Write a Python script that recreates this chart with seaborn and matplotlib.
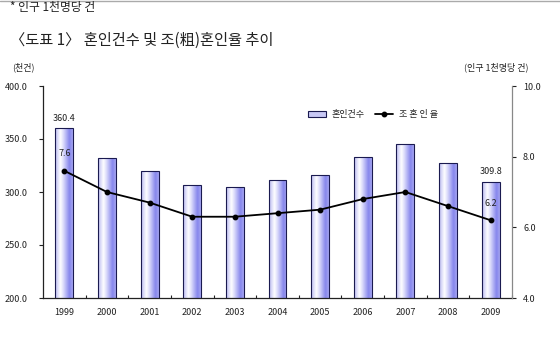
import numpy as np
import pandas as pd
import matplotlib
matplotlib.use("Agg")
import matplotlib.pyplot as plt
from matplotlib.patches import Patch
from matplotlib.lines import Line2D
from matplotlib.colors import LinearSegmentedColormap
import seaborn as sns

# Marriage counts (thousands) and crude marriage rate (per 1,000 population)
years = ["1999", "2000", "2001", "2002", "2003", "2004", "2005", "2006", "2007", "2008", "2009"]
marriages = [360.4, 332.1, 320.1, 306.6, 304.9, 310.9, 316.4, 332.8, 345.6, 327.7, 309.8]
crude_rate = [7.6, 7.0, 6.7, 6.3, 6.3, 6.4, 6.5, 6.8, 7.0, 6.6, 6.2]
left_ticks = [200, 250, 300, 350, 400]
right_ticks = [4, 6, 8, 10]

sns.set_theme(style="white")
plt.rcParams["font.family"] = ["Noto Sans CJK KR", "DejaVu Sans"]

df = pd.DataFrame({"year": years, "marriages": marriages, "rate": crude_rate})

fig = plt.figure(figsize=(5.6, 3.43), dpi=100)
ax = fig.add_axes([43 / 560, 45 / 343, 469 / 560, 212 / 343])

sns.barplot(data=df, x="year", y="marriages", ax=ax, width=0.42,
            color="#c8c8f5", edgecolor="#1a1a50", linewidth=0.8, zorder=2)

ax.set_ylim(200, 400)
ax.set_xlim(-0.5, len(years) - 0.5)
ymin = ax.get_ylim()[0]

# horizontal gradient fill for each bar
grad = LinearSegmentedColormap.from_list(
    "bar", [(0.0, "#b8b8f2"), (0.3, "#ffffff"), (0.5, "#d4d4fa"),
            (0.82, "#8484ec"), (1.0, "#a8a8f2")])
g = np.linspace(0, 1, 64).reshape(1, -1)
for p in ax.patches:
    x0, y0 = p.get_x(), p.get_y()
    w, h = p.get_width(), p.get_height()
    im = ax.imshow(g, cmap=grad, aspect="auto",
                   extent=[x0, x0 + w, max(y0, ymin), y0 + h],
                   zorder=2.5, interpolation="bicubic")
    im.set_clip_path(p)
    p.set_facecolor("none")
    p.set_zorder(3)

ax.set_ylim(200, 400)
ax.set_xlim(-0.5, len(years) - 0.5)
ax.set_yticks(left_ticks)
ax.set_yticklabels([f"{v:.1f}" for v in left_ticks])
ax.set_xlabel("")
ax.set_ylabel("")
ax.tick_params(axis="y", direction="out", length=3, width=0.8, colors="#222222",
               labelsize=6.5, pad=8, left=True)
ax.tick_params(axis="x", length=0, labelsize=6.5, labelcolor="#222222", pad=7)
ax.set_xticks(np.arange(len(years)) + 0.5, minor=True)
ax.tick_params(axis="x", which="minor", direction="in", length=2.5, width=0.8,
               color="#222222", bottom=True)
for s in ["top", "right"]:
    ax.spines[s].set_visible(False)
ax.spines["left"].set_color("#222222")
ax.spines["bottom"].set_color("#222222")
ax.spines["left"].set_linewidth(0.9)
ax.spines["bottom"].set_linewidth(0.9)
ax.spines["bottom"].set_zorder(4)

# crude marriage rate on the secondary axis
ax2 = ax.twinx()
sns.pointplot(data=df, x="year", y="rate", ax=ax2, color="black",
              markers="o", markersize=3.2, linewidth=1.3, zorder=5)
ax2.set_xlim(-0.5, len(years) - 0.5)
ax2.set_ylim(4, 10)
ax2.set_yticks(right_ticks)
ax2.set_yticklabels([f"{v:.1f}" for v in right_ticks])
ax2.set_ylabel("")
ax2.tick_params(axis="y", direction="out", length=3, width=0.8, colors="#222222",
                labelsize=6.5, pad=5, right=True)
for s in ["top", "left", "bottom"]:
    ax2.spines[s].set_visible(False)
ax2.spines["right"].set_color("#888888")
ax2.spines["right"].set_linewidth(0.9)
ax2.grid(False)
ax.grid(False)

# value labels for first and last years
ax.text(0, marriages[0] + 5, f"{marriages[0]:.1f}", ha="center", va="bottom",
        fontsize=6.5, color="#222222", zorder=6)
ax.text(len(years) - 1, marriages[-1] + 5, f"{marriages[-1]:.1f}", ha="center",
        va="bottom", fontsize=6.5, color="#222222", zorder=6)
ax2.text(0, crude_rate[0] + 0.35, f"{crude_rate[0]:.1f}", ha="center", va="bottom",
         fontsize=6.5, color="#222222", zorder=6)
ax2.text(len(years) - 1, crude_rate[-1] + 0.35, f"{crude_rate[-1]:.1f}", ha="center",
         va="bottom", fontsize=6.5, color="#222222", zorder=6)

# legend
handles = [Patch(facecolor="#c8c8f5", edgecolor="#1a1a50", linewidth=0.8),
           Line2D([0], [0], color="black", lw=1.3, marker="o", markersize=3.2)]
fig.legend(handles, ["혼인건수", "조 혼 인 율"], loc="center left",
           bbox_to_anchor=(300 / 560, 1 - 115 / 343), bbox_transform=fig.transFigure,
           ncol=2, frameon=False, fontsize=6.5, handlelength=2.0, handleheight=0.6,
           columnspacing=1.2, handletextpad=0.6)

# headings and axis units
fig.text(10 / 560, 1 - 8 / 343, "* 인구 1천명당 건", ha="left", va="center",
         fontsize=8.5, color="#222222")
fig.text(10 / 560, 1 - 40 / 343, "〈도표 1〉 혼인건수 및 조(粗)혼인율 추이", ha="left",
         va="center", fontsize=11, color="#222222")
fig.text(12 / 560, 1 - 67 / 343, "(천건)", ha="left", va="center", fontsize=6.5,
         color="#222222")
fig.text(528 / 560, 1 - 67 / 343, "(인구 1천명당 건)", ha="right", va="center",
         fontsize=6.5, color="#222222")
fig.add_artist(Line2D([0, 1], [1 - 1 / 343, 1 - 1 / 343], transform=fig.transFigure,
                      color="#aaaaaa", lw=1))

fig.savefig("out.png", dpi=100)
